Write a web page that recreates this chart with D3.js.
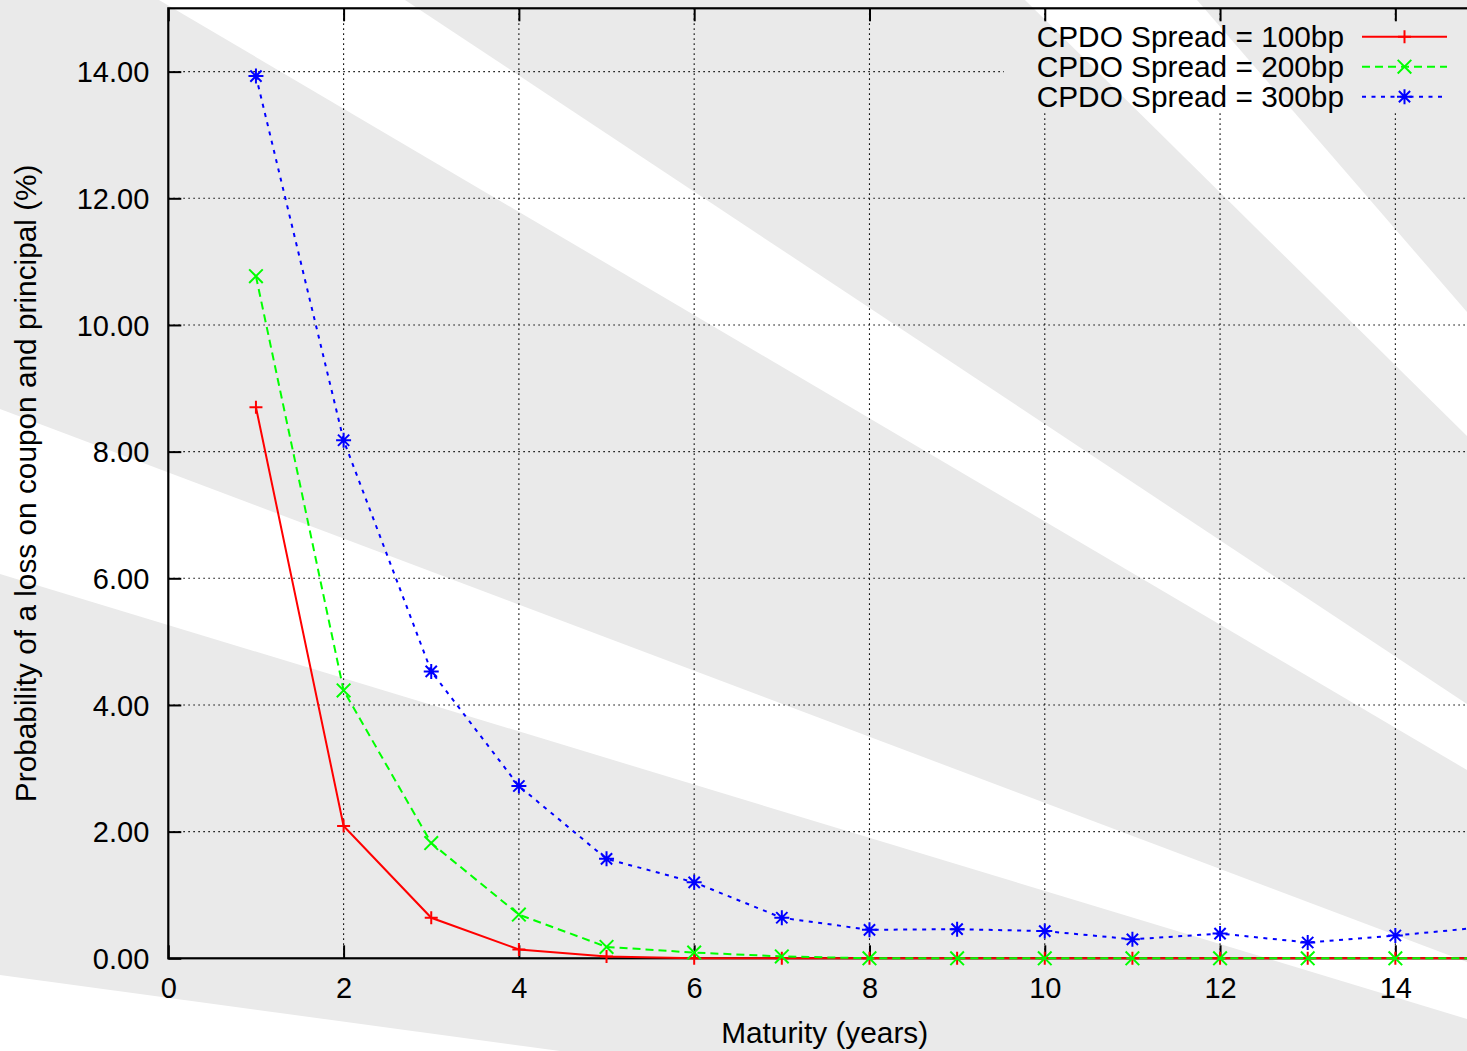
<!DOCTYPE html>
<html>
<head>
<meta charset="utf-8">
<script src="https://cdn.jsdelivr.net/npm/d3@7/dist/d3.min.js"></script>
<style>
body { margin: 0; background: #fff; }
svg { display: block; }
</style>
</head>
<body>
<script>
// maturities (years) and loss probabilities (%)
var maturity  = [1, 2, 3, 4, 5, 6, 7, 8, 9, 10, 11, 12, 13, 14, 15];
var spread100 = [8.70, 2.09, 0.64, 0.14, 0.03, 0.00, 0.00, 0.00, 0.00, 0.00, 0.00, 0.00, 0.00, 0.00, 0.00];
var spread200 = [10.77, 4.23, 1.82, 0.69, 0.18, 0.09, 0.03, 0.00, 0.00, 0.00, 0.00, 0.00, 0.00, 0.00, 0.00];
var spread300 = [13.93, 8.18, 4.53, 2.72, 1.57, 1.20, 0.64, 0.45, 0.46, 0.43, 0.30, 0.39, 0.25, 0.36, 0.49];
var seriesNames = ["CPDO Spread = 100bp", "CPDO Spread = 200bp", "CPDO Spread = 300bp"];
var xTicks = [0, 2, 4, 6, 8, 10, 12, 14];
var yTicks = [0, 2, 4, 6, 8, 10, 12, 14];

var W = 1467, H = 1051;
var font = "'Liberation Sans', Arial, Helvetica, sans-serif";
var fs = 29;      // tick labels
var fsT = 29.8;   // titles and key

var svg = d3.select("body").append("svg").attr("width", W).attr("height", H)
    .attr("font-family", font);

// page background: grey with white diagonal bands
svg.append("rect").attr("width", W).attr("height", H).attr("fill", "#eaeaea");
var bands = [
    [[159, 0], [405, 0], [1467, 704], [1467, 770]],
    [[1025, 0], [1197, 0], [1467, 312], [1467, 436]],
    [[0, 409], [1467, 962], [1467, 1019], [0, 574]],
    [[0, 975], [560, 1051], [0, 1051]]
];
svg.selectAll(".band").data(bands).enter().append("polygon")
    .attr("class", "band")
    .attr("points", function (d) { return d.map(function (p) { return p.join(","); }).join(" "); })
    .attr("fill", "#fff");

// scales
var x = d3.scaleLinear().domain([0, 15]).range([168.3, 1483]);
var y = d3.scaleLinear().domain([0, 15]).range([958.3, 8.3]);

// key area is kept clear of grid lines
var defs = svg.append("defs");
var mask = defs.append("mask").attr("id", "keyhole");
mask.append("rect").attr("width", W).attr("height", H).attr("fill", "#fff");
mask.append("rect").attr("x", 1004).attr("y", 21).attr("width", 461).attr("height", 90).attr("fill", "#000");

var grid = svg.append("g").attr("mask", "url(#keyhole)")
    .attr("stroke", "#111").attr("stroke-width", 1.1).attr("stroke-dasharray", "1.6,3.4");
grid.selectAll(".gx").data(xTicks.filter(function (t) { return t > 0; })).enter().append("line")
    .attr("x1", function (d) { return x(d); }).attr("x2", function (d) { return x(d); })
    .attr("y1", y(15)).attr("y2", y(0));
grid.selectAll(".gy").data(yTicks.filter(function (t) { return t > 0; })).enter().append("line")
    .attr("y1", function (d) { return y(d); }).attr("y2", function (d) { return y(d); })
    .attr("x1", x(0)).attr("x2", x(15));

// border
svg.append("rect")
    .attr("x", x(0)).attr("y", y(15))
    .attr("width", x(15) - x(0)).attr("height", y(0) - y(15))
    .attr("fill", "none").attr("stroke", "#000").attr("stroke-width", 2.2);

// axes with inward ticks
var fmtY = d3.format(".2f");
var axB = svg.append("g").attr("transform", "translate(0," + y(0) + ")")
    .call(d3.axisBottom(x).tickValues(xTicks).tickSize(-13).tickPadding(19).tickFormat(d3.format("d")));
var axL = svg.append("g").attr("transform", "translate(" + x(0) + ",0)")
    .call(d3.axisLeft(y).tickValues(yTicks).tickSize(-13).tickPadding(19).tickFormat(fmtY));
var axT = svg.append("g").attr("transform", "translate(0," + y(15) + ")")
    .call(d3.axisTop(x).tickValues(xTicks).tickSize(-13).tickFormat(""));
var axR = svg.append("g").attr("transform", "translate(" + x(15) + ",0)")
    .call(d3.axisRight(y).tickValues(yTicks).tickSize(-13).tickFormat(""));
[axB, axL, axT, axR].forEach(function (a) {
    a.attr("font-family", font).attr("font-size", fs);
    a.select(".domain").remove();
    a.selectAll(".tick line").attr("stroke", "#000").attr("stroke-width", 2);
    a.selectAll(".tick text").attr("fill", "#000");
});
axL.selectAll(".tick text").attr("dy", "0.35em");

// axis titles
svg.append("text")
    .attr("x", (x(0) + x(15)) / 2 - 1).attr("y", 1043)
    .attr("text-anchor", "middle").attr("font-size", fsT)
    .text("Maturity (years)");
svg.append("text")
    .attr("transform", "translate(36," + (y(0) + y(15)) / 2 + ") rotate(-90)")
    .attr("text-anchor", "middle").attr("font-size", fsT)
    .text("Probability of a loss on coupon and principal (%)");

// point shapes
function plusPath(s) { return "M" + (-s) + ",0H" + s + "M0," + (-s) + "V" + s; }
function crossPath(s) { return "M" + (-s) + "," + (-s) + "L" + s + "," + s + "M" + (-s) + "," + s + "L" + s + "," + (-s); }
function starPath(s) { return plusPath(s) + crossPath(s * 0.75); }

var series = [
    { name: seriesNames[0], values: spread100, color: "#ff0000", dash: null, shape: plusPath(6.5) },
    { name: seriesNames[1], values: spread200, color: "#00ff00", dash: "8,5", shape: crossPath(6.8) },
    { name: seriesNames[2], values: spread300, color: "#0000ff", dash: "4,5.5", shape: starPath(7.5) }
];

var line = d3.line()
    .x(function (d) { return x(d.m); })
    .y(function (d) { return y(d.v); });

series.forEach(function (s) {
    var pts = maturity.map(function (m, i) { return { m: m, v: s.values[i] }; });
    var g = svg.append("g");
    g.append("path").datum(pts)
        .attr("d", line)
        .attr("fill", "none")
        .attr("stroke", s.color)
        .attr("stroke-width", 2)
        .attr("stroke-dasharray", s.dash);
    g.selectAll(".pt").data(pts).enter().append("path")
        .attr("transform", function (d) { return "translate(" + x(d.m) + "," + y(d.v) + ")"; })
        .attr("d", s.shape)
        .attr("fill", "none")
        .attr("stroke", s.color)
        .attr("stroke-width", 2);
});

// key
var key = svg.append("g");
series.forEach(function (s, i) {
    var cy = 36.7 + i * 30;
    key.append("text")
        .attr("x", 1344).attr("y", cy + 10.4)
        .attr("text-anchor", "end").attr("font-size", fsT)
        .text(s.name);
    key.append("line")
        .attr("x1", 1362).attr("x2", 1447).attr("y1", cy).attr("y2", cy)
        .attr("stroke", s.color).attr("stroke-width", 2)
        .attr("stroke-dasharray", s.dash);
    key.append("path")
        .attr("transform", "translate(1404.5," + cy + ")")
        .attr("d", s.shape)
        .attr("fill", "none").attr("stroke", s.color).attr("stroke-width", 2);
});
</script>
</body>
</html>
